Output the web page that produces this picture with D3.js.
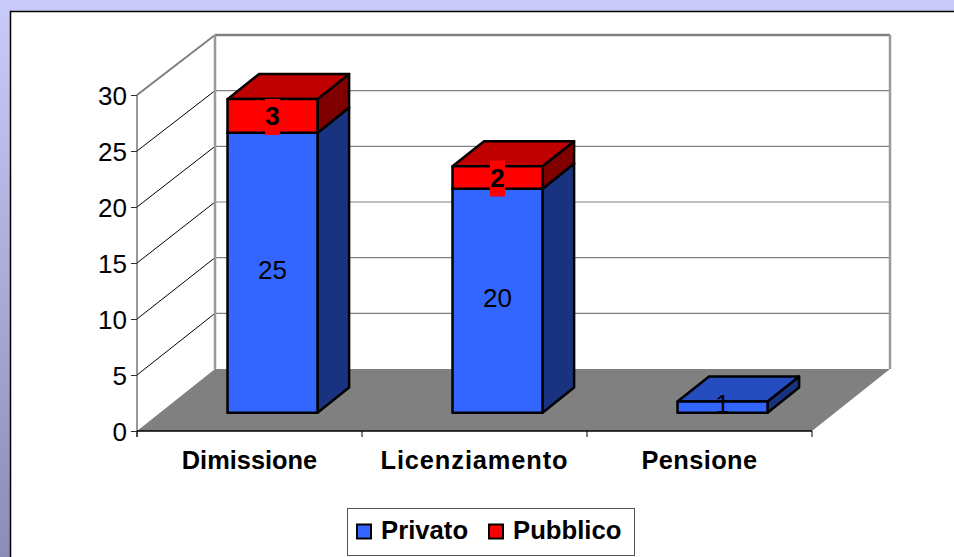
<!DOCTYPE html>
<html>
<head>
<meta charset="utf-8">
<script src="https://cdn.jsdelivr.net/npm/d3@7"></script>
<style>
  html, body { margin: 0; padding: 0; background: #fff; }
  svg { display: block; }
  text { font-family: "Liberation Sans", Arial, sans-serif; fill: #000; }
</style>
</head>
<body>
<div id="chart"></div>
<script>
var categories = ['Dimissione', 'Licenziamento', 'Pensione'];
var privato = [25, 20, 1];
var pubblico = [3, 2, 0];
var yTicks = [0, 5, 10, 15, 20, 25, 30];

var width = 954, height = 557;

// front plane of the 3d box, the back wall sits up and to the right of it
var depthX = 78, depthY = 62;
var barFront = 0.295, barBack = 0.70;

var x = d3.scaleBand().domain(categories).range([137, 812])
    .paddingInner(0.6).paddingOuter(0.3);
var y = d3.scaleLinear().domain([0, 30]).range([431, 95]);
var yWall = d3.scaleLinear().domain([0, 30]).range([369, 35]);

var svg = d3.select('#chart').append('svg')
    .attr('width', width)
    .attr('height', height);

var grad = svg.append('defs').append('linearGradient')
    .attr('id', 'bg')
    .attr('x1', 0).attr('y1', 0).attr('x2', 0).attr('y2', 1);
grad.append('stop').attr('offset', '0%').attr('stop-color', '#cbcbfb');
grad.append('stop').attr('offset', '100%').attr('stop-color', '#8c8cb6');

svg.append('rect')
    .attr('width', width).attr('height', height)
    .attr('fill', 'url(#bg)');
svg.append('rect')
    .attr('x', 10.5).attr('y', 11.5)
    .attr('width', width).attr('height', height)
    .attr('fill', '#fff')
    .attr('stroke', '#000')
    .attr('stroke-width', 1.5);

var xLeft = x.range()[0], xRight = x.range()[1];

// floor
svg.append('path')
    .attr('d', d3.line()([
      [xLeft, y(0)], [xLeft + depthX, yWall(0)],
      [xRight + depthX, yWall(0)], [xRight, y(0)]
    ]) + 'Z')
    .attr('fill', '#808080');

// grid on side wall and back wall
yTicks.slice(1).forEach(function(t) {
  svg.append('line')
      .attr('x1', xLeft).attr('y1', y(t))
      .attr('x2', xLeft + depthX).attr('y2', yWall(t))
      .attr('stroke', t == 30 ? '#808080' : '#000')
      .attr('stroke-width', t == 30 ? 2 : 1);
  svg.append('line')
      .attr('x1', xLeft + depthX).attr('y1', yWall(t))
      .attr('x2', xRight + depthX).attr('y2', yWall(t))
      .attr('stroke', '#808080')
      .attr('stroke-width', t == 30 ? 2.5 : 1.2);
});

// wall edges
[xLeft + depthX, xRight + depthX].forEach(function(wx) {
  svg.append('line')
      .attr('x1', wx).attr('y1', yWall(30))
      .attr('x2', wx).attr('y2', yWall(0))
      .attr('stroke', '#999')
      .attr('stroke-width', 2.5);
});

// axes
var yAxis = svg.append('g')
    .attr('transform', 'translate(' + xLeft + ',0)')
    .call(d3.axisLeft(y).tickValues(yTicks).tickSize(6).tickPadding(4));
yAxis.select('.domain').attr('stroke', '#333').attr('d', 'M0,' + y(30) + 'V' + (y(0) + 6));
yAxis.selectAll('line').attr('stroke', '#333');
yAxis.selectAll('text').attr('font-size', 26).attr('font-family', '"Liberation Sans"').attr('dy', '0.36em');

var xAxis = svg.append('g')
    .attr('transform', 'translate(0,' + y(0) + ')')
    .call(d3.axisBottom(x).tickSize(0).tickPadding(20));
xAxis.select('.domain').attr('stroke', '#000').attr('stroke-width', 1.5)
    .attr('d', 'M' + xLeft + ',0H' + xRight);
// the original hinted text runs a little wider than Liberation here
var labelSpacing = { Dimissione: 0, Licenziamento: 0.9, Pensione: 0.4 };
xAxis.selectAll('text')
    .attr('font-size', 25.4)
    .attr('font-weight', 'bold')
    .attr('font-family', '"Liberation Sans"')
    .style('letter-spacing', function(d) { return labelSpacing[d] + 'px'; });
d3.range(categories.length + 1).forEach(function(i) {
  xAxis.append('line')
      .attr('x1', xLeft + i * x.step()).attr('x2', xLeft + i * x.step())
      .attr('y1', 0).attr('y2', 6)
      .attr('stroke', '#000');
});

// project a point given its category x, depth (0-1) and value
function pt(px, d, v) {
  return [px + d * depthX, y(v) - d * depthY];
}

function drawBox(px, v0, v1, c) {
  var w = x.bandwidth();
  var g = svg.append('g').attr('stroke', '#000').attr('stroke-width', 2.5).attr('stroke-linejoin', 'round');
  var poly = d3.line();
  g.append('path').attr('fill', c.side).attr('d', poly([
    pt(px + w, barFront, v0), pt(px + w, barBack, v0),
    pt(px + w, barBack, v1), pt(px + w, barFront, v1)
  ]) + 'Z');
  g.append('path').attr('fill', c.top).attr('d', poly([
    pt(px, barFront, v1), pt(px, barBack, v1),
    pt(px + w, barBack, v1), pt(px + w, barFront, v1)
  ]) + 'Z');
  g.append('path').attr('fill', c.front).attr('d', poly([
    pt(px, barFront, v0), pt(px + w, barFront, v0),
    pt(px + w, barFront, v1), pt(px, barFront, v1)
  ]) + 'Z');
}

var blue = { front: '#3366ff', side: '#1a3380', top: '#264dbf' };
var red = { front: '#ff0000', side: '#800000', top: '#bf0000' };

categories.forEach(function(c, i) {
  var px = x(c);
  drawBox(px, 0, privato[i], blue);
  if (pubblico[i] > 0) drawBox(px, privato[i], privato[i] + pubblico[i], red);
});

// data labels, drawn last so they sit over the bars
categories.forEach(function(c, i) {
  var p = pt(x(c) + x.bandwidth() / 2, barFront, privato[i] / 2);
  svg.append('text')
      .attr('x', p[0]).attr('y', p[1] - 3)
      .attr('dy', '0.36em')
      .attr('text-anchor', 'middle')
      .attr('font-size', 26)
      .text(privato[i]);
  if (pubblico[i] > 0) {
    var q = pt(x(c) + x.bandwidth() / 2, barFront, privato[i] + pubblico[i] / 2);
    svg.append('rect')
        .attr('x', q[0] - 7.5).attr('y', q[1] - 17)
        .attr('width', 15).attr('height', 36)
        .attr('fill', '#ff0000');
    svg.append('text')
        .attr('x', q[0]).attr('y', q[1])
        .attr('dy', '0.36em')
        .attr('text-anchor', 'middle')
        .attr('font-size', 26)
        .attr('font-weight', 'bold')
        .text(pubblico[i]);
  }
});

// legend
var legend = svg.append('g');
legend.append('rect')
    .attr('x', 347.5).attr('y', 508.5)
    .attr('width', 287).attr('height', 47)
    .attr('fill', '#fff')
    .attr('stroke', '#555')
    .attr('stroke-width', 1);
[['Privato', '#3366ff', 357, 381], ['Pubblico', '#ff0000', 489, 513]].forEach(function(l) {
  legend.append('rect')
      .attr('x', l[2]).attr('y', 524.5)
      .attr('width', 14).attr('height', 14)
      .attr('fill', l[1])
      .attr('stroke', '#000')
      .attr('stroke-width', 2);
  legend.append('text')
      .attr('x', l[3]).attr('y', 530)
      .attr('dy', '0.36em')
      .attr('font-size', 25.7)
      .attr('font-weight', 'bold')
      .text(l[0]);
});
</script>
</body>
</html>
